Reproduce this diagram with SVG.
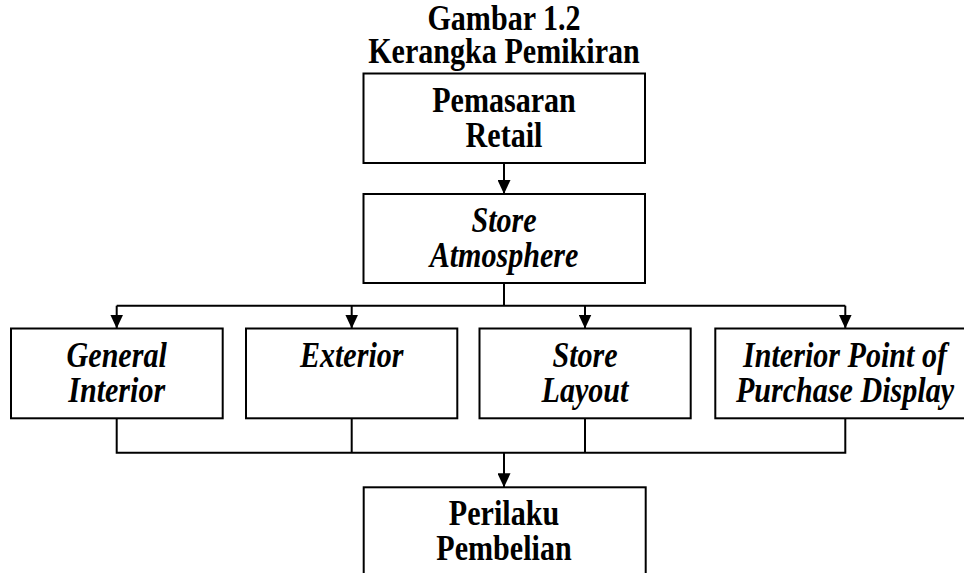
<svg xmlns="http://www.w3.org/2000/svg" width="964" height="573" viewBox="0 0 964 573">
<style>
.bg{fill:#ffffff}
.box{fill:#ffffff;stroke:#000000;stroke-width:2}
.ln{fill:none;stroke:#000000;stroke-width:2}
.t{font-family:"Liberation Serif","Times New Roman",serif;font-size:35px;font-weight:bold;fill:#000000;text-anchor:middle}
.i{font-style:italic}
</style>
<defs>
<marker id="ah" viewBox="0 0 14 13" refX="14" refY="6.5" markerWidth="14" markerHeight="13" markerUnits="userSpaceOnUse" orient="auto">
<path d="M0,0 L14,6.5 L0,13 Z" fill="#000000"/>
</marker>
</defs>
<rect class="bg" x="0" y="0" width="964" height="573"/>
<g id="title">
<text class="t" transform="matrix(0.86 0 0 1 504 30)">Gambar 1.2</text>
<text class="t" transform="matrix(0.86 0 0 1 504 63)">Kerangka Pemikiran</text>
</g>
<g id="connectors">
<path class="ln" d="M504,163 V194" marker-end="url(#ah)"/>
<path class="ln" d="M504,283 V305.7 M116.7,305.7 H845.3"/>
<path class="ln" d="M116.7,305.7 V328.5" marker-end="url(#ah)"/>
<path class="ln" d="M351.7,305.7 V328.5" marker-end="url(#ah)"/>
<path class="ln" d="M585,305.7 V328.5" marker-end="url(#ah)"/>
<path class="ln" d="M845.3,305.7 V328.5" marker-end="url(#ah)"/>
<path class="ln" d="M116.7,418.3 V452.7 H845.3 V418.3 M351.7,418.3 V452.7 M585,418.3 V452.7"/>
<path class="ln" d="M504,452.7 V487.3" marker-end="url(#ah)"/>
</g>
<g id="pemasaran">
<rect class="box" x="363.5" y="73.5" width="281.5" height="89.5"/>
<text class="t" transform="matrix(0.86 0 0 1 504 111.5)">Pemasaran</text>
<text class="t" transform="matrix(0.86 0 0 1 504 146.5)">Retail</text>
</g>
<g id="store-atmosphere">
<rect class="box" x="363.5" y="194" width="281.5" height="89"/>
<text class="t i" transform="matrix(0.86 0 0 1 504 231.5)">Store</text>
<text class="t i" transform="matrix(0.86 0 0 1 504 266.5)">Atmosphere</text>
</g>
<g id="general-interior">
<rect class="box" x="11" y="328.5" width="211.7" height="89.8"/>
<text class="t i" transform="matrix(0.86 0 0 1 116.7 366.5)">General</text>
<text class="t i" transform="matrix(0.86 0 0 1 116.7 401.5)">Interior</text>
</g>
<g id="exterior">
<rect class="box" x="246" y="328.5" width="211.3" height="89.8"/>
<text class="t i" transform="matrix(0.86 0 0 1 351.7 366.5)">Exterior</text>
</g>
<g id="store-layout">
<rect class="box" x="479.5" y="328.5" width="211.2" height="89.8"/>
<text class="t i" transform="matrix(0.86 0 0 1 585 366.5)">Store</text>
<text class="t i" transform="matrix(0.86 0 0 1 585 401.5)">Layout</text>
</g>
<g id="interior-point">
<rect class="box" x="715.3" y="328.5" width="262" height="89.8"/>
<text class="t i" transform="matrix(0.86 0 0 1 845 366.5)">Interior Point of</text>
<text class="t i" transform="matrix(0.86 0 0 1 845 401.5)">Purchase Display</text>
</g>
<g id="perilaku">
<rect class="box" x="363.7" y="487.3" width="282" height="100"/>
<text class="t" transform="matrix(0.86 0 0 1 504 525)">Perilaku</text>
<text class="t" transform="matrix(0.86 0 0 1 504 559.5)">Pembelian</text>
</g>
</svg>
